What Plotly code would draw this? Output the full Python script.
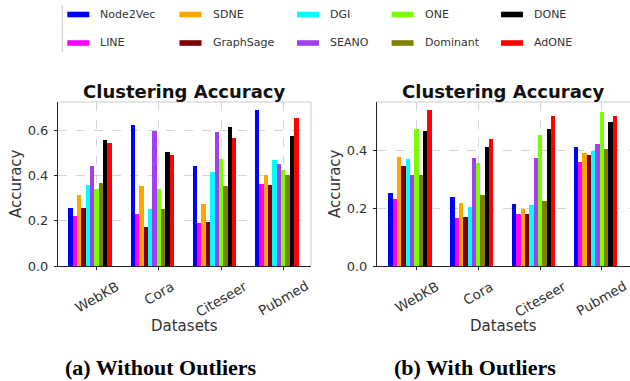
import plotly.graph_objects as go

datasets = ["WebKB", "Cora", "Citeseer", "Pubmed"]
methods = ["Node2Vec", "LINE", "SDNE", "GraphSage", "DGI",
           "SEANO", "ONE", "Dominant", "DONE", "AdONE"]
colors = ["#0000ff", "#ff00ff", "#ffa500", "#800000", "#00ffff",
          "#a040f0", "#7cfc00", "#808000", "#000000", "#ff0000"]

# (a) Without Outliers: one list per method, values for WebKB, Cora, Citeseer, Pubmed
node2vec_a = [0.255, 0.624, 0.443, 0.689]
line_a = [0.221, 0.228, 0.188, 0.362]
sdne_a = [0.312, 0.353, 0.274, 0.402]
graphsage_a = [0.255, 0.171, 0.193, 0.358]
dgi_a = [0.358, 0.250, 0.414, 0.467]
seano_a = [0.441, 0.596, 0.590, 0.449]
one_a = [0.340, 0.340, 0.472, 0.425]
dominant_a = [0.368, 0.250, 0.353, 0.402]
done_a = [0.556, 0.503, 0.612, 0.574]
adone_a = [0.542, 0.492, 0.567, 0.652]

# (b) With Outliers
node2vec_b = [0.254, 0.240, 0.214, 0.412]
line_b = [0.231, 0.168, 0.180, 0.360]
sdne_b = [0.379, 0.218, 0.199, 0.391]
graphsage_b = [0.348, 0.169, 0.180, 0.386]
dgi_b = [0.370, 0.206, 0.210, 0.399]
seano_b = [0.317, 0.374, 0.374, 0.424]
one_b = [0.476, 0.356, 0.456, 0.534]
dominant_b = [0.317, 0.246, 0.226, 0.406]
done_b = [0.468, 0.412, 0.477, 0.499]
adone_b = [0.541, 0.439, 0.521, 0.521]

y_ticks_a = [0.0, 0.2, 0.4, 0.6]
y_ticks_b = [0.0, 0.2, 0.4]

series_a = [node2vec_a, line_a, sdne_a, graphsage_a, dgi_a,
            seano_a, one_a, dominant_a, done_a, adone_a]
series_b = [node2vec_b, line_b, sdne_b, graphsage_b, dgi_b,
            seano_b, one_b, dominant_b, done_b, adone_b]

W, H = 630, 381          # reference design space
FIG_H = 389              # figure height (compensates the capture's vertical squash)
def px(x):
    return x / W
def py(y):
    return 1 - y / H

BAR_W = 0.07
TXT = "#333333"
FONT = "DejaVu Sans"

fig = go.Figure()
for panel, series in (("", series_a), ("2", series_b)):
    for j, (name, vals, col) in enumerate(zip(methods, series, colors)):
        fig.add_trace(go.Bar(
            x=datasets, y=vals, name=name,
            marker=dict(color=col, line=dict(width=0)),
            width=BAR_W, offset=(j - 6.5) * BAR_W,
            xaxis="x" + panel, yaxis="y" + panel,
            showlegend=False,
        ))

plot_top, plot_bot = 102, 266
panels = [
    dict(key="", left=58, right=311, xr=[-0.62, 3.445], yr=[0, 0.724], yt=y_ticks_a),
    dict(key="2", left=377, right=630, xr=[-0.64, 3.455], yr=[0, 0.569], yt=y_ticks_b),
]

axis_common = dict(showgrid=True, gridcolor="#d6d6d6", griddash="dash", gridwidth=1,
                   zeroline=False, showline=True, linecolor="#222222", linewidth=1,
                   ticks="outside", ticklen=3, tickcolor="#222222")

shapes = []
annotations = []
layout_axes = {}
for p in panels:
    k = p["key"]
    layout_axes["xaxis" + k] = dict(
        axis_common, domain=[px(p["left"]), px(p["right"])],
        anchor="y" + k, type="category", range=p["xr"],
        showticklabels=False, fixedrange=True)
    layout_axes["yaxis" + k] = dict(
        axis_common, domain=[py(plot_bot), py(plot_top)],
        anchor="x" + k, range=p["yr"], tickvals=p["yt"],
        ticktext=["%.1f" % v for v in p["yt"]],
        tickfont=dict(family=FONT, size=13, color=TXT),
        ticklabelstandoff=3, fixedrange=True)
    # light top/right spines
    shapes.append(dict(type="line", xref="paper", yref="paper",
                       x0=px(p["left"]), x1=px(p["right"]),
                       y0=py(plot_top), y1=py(plot_top),
                       line=dict(color="#cccccc", width=1)))
    if p["right"] < W:
        shapes.append(dict(type="line", xref="paper", yref="paper",
                           x0=px(p["right"]), x1=px(p["right"]),
                           y0=py(plot_top), y1=py(plot_bot),
                           line=dict(color="#cccccc", width=1)))
    cx = (p["left"] + p["right"]) / 2
    annotations.append(dict(text="<b>Clustering Accuracy</b>", xref="paper", yref="paper",
                            x=px(cx), y=py(91), xanchor="center", yanchor="middle",
                            showarrow=False, font=dict(family=FONT, size=18, color="#111111")))
    annotations.append(dict(text="Accuracy", xref="paper", yref="paper",
                            x=px(p["left"] - 42), y=py(184), xanchor="center", yanchor="middle",
                            textangle=-90, showarrow=False,
                            font=dict(family=FONT, size=15, color=TXT)))
    annotations.append(dict(text="Datasets", xref="paper", yref="paper",
                            x=px(cx), y=py(326), xanchor="center", yanchor="middle",
                            showarrow=False, font=dict(family=FONT, size=15, color=TXT)))
    for d in datasets:
        annotations.append(dict(text=d, xref="x" + k, yref="paper", x=d, y=py(275),
                                xanchor="center", yanchor="top", textangle=-30,
                                showarrow=False, font=dict(family=FONT, size=13.5, color=TXT)))

# subcaptions
for text, cx in (("(a) Without Outliers", 160.5), ("(b) With Outliers", 475)):
    annotations.append(dict(text="<b>" + text + "</b>", xref="paper", yref="paper",
                            x=px(cx), y=py(367), xanchor="center", yanchor="middle",
                            showarrow=False,
                            font=dict(family="Liberation Serif", size=22, color="#000000")))

# legend (matplotlib-style, 5 columns x 2 rows, column-major)
leg_cols = [67.3, 179.5, 297, 391.6, 501]
leg_rows = [14.5, 43]
shapes.append(dict(type="line", xref="paper", yref="paper", x0=px(62.3), x1=px(62.3),
                   y0=py(5), y1=py(52), line=dict(color="#cccccc", width=1)))
for idx, (name, col) in enumerate(zip(methods, colors)):
    c, r = divmod(idx, 2)
    x0 = leg_cols[c]
    yc = leg_rows[r]
    shapes.append(dict(type="rect", xref="paper", yref="paper",
                       x0=px(x0), x1=px(x0 + 22), y0=py(yc + 2.8), y1=py(yc - 2.8),
                       fillcolor=col, line=dict(width=0)))
    annotations.append(dict(text=name, xref="paper", yref="paper",
                            x=px(x0 + 31), y=py(yc), xanchor="left", yanchor="middle",
                            showarrow=False, font=dict(family=FONT, size=11, color=TXT)))

fig.update_layout(
    width=W, height=FIG_H, autosize=False,
    margin=dict(l=0, r=0, t=0, b=0),
    paper_bgcolor="white", plot_bgcolor="white",
    barmode="overlay", bargap=0,
    shapes=shapes, annotations=annotations,
    **layout_axes,
)

post = (
    "var h=document.documentElement, b=document.body;"
    "h.style.margin='0';h.style.padding='0';h.style.overflow='hidden';"
    "b.style.margin='0';b.style.padding='0';b.style.overflow='hidden';"
)
fig.write_html("out.html",
               config={"displayModeBar": False, "staticPlot": True},
               post_script=post)
